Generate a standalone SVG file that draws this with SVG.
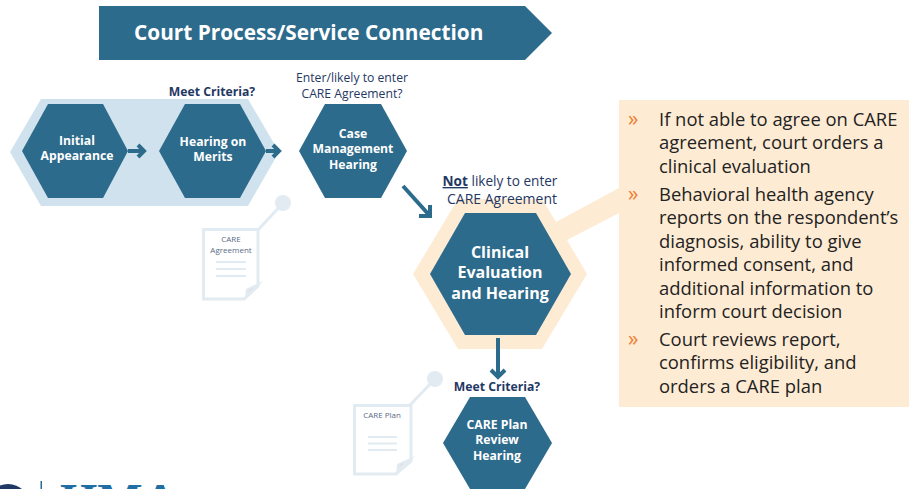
<svg xmlns="http://www.w3.org/2000/svg" width="909" height="489" viewBox="0 0 909 489">
<style>
text{font-family:"Open Sans","Noto Sans","Liberation Sans",sans-serif}
.hex{fill:#2d6b8c}
.nl{fill:#fff;font-weight:700;font-size:12.200px;text-anchor:middle}
.cap{fill:#1f3864;font-size:12.200px;text-anchor:middle}
.capb{fill:#1f3864;font-size:12.200px;font-weight:700;text-anchor:middle}
.doc{fill:#fff;stroke:#e2ebf2;stroke-width:3}
.docl{stroke:#e2ebf2;stroke-width:2}
.doct{fill:#5a6b85;font-size:8px;text-anchor:middle}
.body{fill:#222;font-size:18.400px}
.bul{fill:#ed7d31;font-size:21px}
.conn{fill:none;stroke:#2d6b8c;stroke-width:4}
</style>
<rect width="909" height="489" fill="#fff"/>
<g id="banner"><polygon points="99,6 525,6 552,33 525,60 99,60" fill="#2d6b8c"/><text x="134" y="40" fill="#fff" font-size="20.800" font-weight="700">Court Process/Service Connection</text></g>
<g id="backdrop"><polygon points="10,152 41,99 248,99 279,152 248,206 41,206" fill="#d0e2ee"/></g>
<g id="callout"><polygon points="413,274 458,199 542,199 556,222 619,188 619,213 567,240 587,274 542,349 458,349" fill="#feebd3"/></g>
<g id="panel"><rect x="619" y="100" width="290" height="307" fill="#feebd3"/>
<text class="bul" x="628" y="126">»</text><text class="bul" x="628" y="201">»</text><text class="bul" x="628" y="346">»</text>
<text class="body"><tspan x="659" y="126">If not able to agree on CARE</tspan><tspan x="659" y="149">agreement, court orders a</tspan><tspan x="659" y="173">clinical evaluation</tspan><tspan x="659" y="201">Behavioral health agency</tspan><tspan x="659" y="224">reports on the respondent’s</tspan><tspan x="659" y="248">diagnosis, ability to give</tspan><tspan x="659" y="271">informed consent, and</tspan><tspan x="659" y="295">additional information to</tspan><tspan x="659" y="318">inform court decision</tspan><tspan x="659" y="346">Court reviews report,</tspan><tspan x="659" y="369">confirms eligibility, and</tspan><tspan x="659" y="393">orders a CARE plan</tspan></text></g>
<g id="connectors">
<path class="conn" d="M128 151H144M138 145l6 6-6 6"/>
<path class="conn" d="M266 151H279M273 145l6 6-6 6"/>
<path class="conn" d="M403 186L430 216M430 205V216H419"/>
<path class="conn" d="M498 338V377M491 370l7 7 7-7"/>
</g>
<g id="n1"><polygon class="hex" points="22,151 48,104 103,104 128,151 103,198 48,198"/><text class="nl"><tspan x="77" y="145">Initial</tspan><tspan x="77" y="160">Appearance</tspan></text></g>
<g id="n2"><polygon class="hex" points="159,151 185,104 240,104 266,151 240,198 185,198"/><text class="nl"><tspan x="213" y="146">Hearing on</tspan><tspan x="213" y="161">Merits</tspan></text></g>
<g id="n3"><polygon class="hex" points="299,151 325,104 381,104 407,151 381,198 325,198"/><text class="nl"><tspan x="353" y="138">Case</tspan><tspan x="353" y="153">Management</tspan><tspan x="353" y="169">Hearing</tspan></text></g>
<g id="n4"><polygon class="hex" points="430,274 465,213 536,213 571,274 536,335 465,335"/><text class="nl" style="font-size:16px"><tspan x="500" y="258">Clinical</tspan><tspan x="500" y="278">Evaluation</tspan><tspan x="500" y="299">and Hearing</tspan></text></g>
<g id="n5"><polygon class="hex" points="443,443 470,397 525,397 552,443 525,489 470,489"/><text class="nl"><tspan x="497" y="429">CARE Plan</tspan><tspan x="497" y="444">Review</tspan><tspan x="497" y="460">Hearing</tspan></text></g>
<g id="labels">
<text class="capb" x="212" y="96">Meet Criteria?</text>
<text class="cap"><tspan x="352" y="82">Enter/likely to enter</tspan><tspan x="352" y="98">CARE Agreement?</tspan></text>
<text class="cap" style="font-size:13.600px" x="500" y="186"><tspan font-weight="700" text-decoration="underline">Not</tspan> likely to enter</text>
<text class="cap" style="font-size:14px" x="502" y="204">CARE Agreement</text>
<text class="capb" x="497" y="391">Meet Criteria?</text>
</g>
<g id="doc1"><circle cx="283" cy="203" r="8" fill="#e2ebf2"/><path d="M258 230L283 203" stroke="#e2ebf2" stroke-width="3"/><path class="doc" d="M203.500 229.500H258V286L244 299H203.500Z"/><path d="M246 289L263 281L245 300Z" fill="#e2ebf2"/><path d="M247 293l6-5-2 1z" fill="#d8c8c8"/><path class="docl" d="M216 262H246M216 269H246M216 276H246"/><text class="doct"><tspan x="231" y="242">CARE</tspan><tspan x="231" y="253">Agreement</tspan></text></g>
<g id="doc2"><circle cx="435" cy="379" r="8" fill="#e2ebf2"/><path d="M410 405L435 379" stroke="#e2ebf2" stroke-width="3"/><path class="doc" d="M354.500 405.500H411V461L396 474H354.500Z"/><path d="M397 464L415 456L396 475Z" fill="#e2ebf2"/><path d="M398 468l6-5-2 1z" fill="#d8c8c8"/><path class="docl" d="M368 437H397M368 443.500H397M368 450H397"/><text class="doct" x="382" y="418">CARE Plan</text></g>
<g id="logo"><circle cx="8" cy="506" r="22" fill="#1f3864"/><rect x="40.500" y="481" width="1.500" height="8" fill="#2d6b8c"/><text x="60" y="517" fill="#1f6fa5" font-size="48" font-weight="700" style="font-family:'Liberation Serif',serif">HMA</text></g>
</svg>
